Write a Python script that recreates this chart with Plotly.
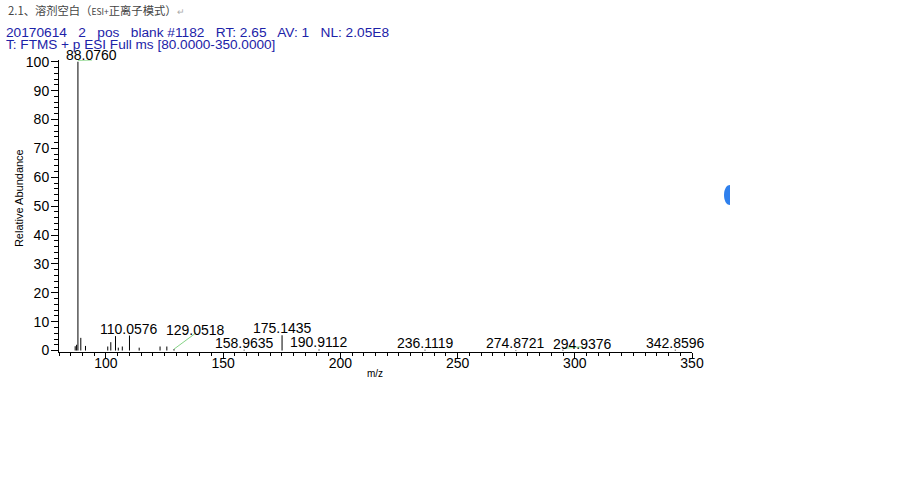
import plotly.graph_objects as go

# ---- data ----
peak_mz = [86.9, 87.5, 88.0760, 89.3, 91.3, 100.8, 102.1, 104.1, 105.3, 107.0,
           110.0576, 114.2, 123.1, 126.0, 129.0518, 158.9635, 175.1435,
           190.9112, 236.1119, 274.8721, 294.9376, 342.8596]
peak_int = [1.5, 2.0, 100.0, 4.4, 1.6, 1.4, 2.9, 5.0, 1.0, 1.4,
            5.2, 1.0, 1.4, 1.4, 0.5, 0.3, 5.3,
            0.4, 0.3, 0.2, 0.3, 0.3]

label_mz = [88.0760, 110.0576, 129.0518, 158.9635, 175.1435, 190.9112,
            236.1119, 274.8721, 294.9376, 342.8596]
label_int = [100.0, 5.2, 0.5, 0.3, 5.3, 0.4, 0.3, 0.2, 0.3, 0.3]
label_text = ["88.0760", "110.0576", "129.0518", "158.9635", "175.1435",
              "190.9112", "236.1119", "274.8721", "294.9376", "342.8596"]
# pixel offsets of labels that are displaced from their peaks
label_dx = [14, 0, 21, 0, 0, 0, 0, 0, 20, 0]
label_dy = [-3, -3, 9, -3, -3, -3, -3, -3, -4, -3]

x_ticks = [100, 150, 200, 250, 300, 350]
y_ticks = [0, 10, 20, 30, 40, 50, 60, 70, 80, 90, 100]

FONT = "Arial, Liberation Sans, sans-serif"
BLUE = "#1c22a8"
GREEN = "#86d486"
SP = "&nbsp;&nbsp; "

# build stick spectrum
xs, ys = [], []
for m, v in zip(peak_mz, peak_int):
    xs += [m, m, None]
    ys += [0, v, None]

fig = go.Figure()
fig.add_trace(go.Scatter(x=xs, y=ys, mode="lines",
                         line=dict(color="black", width=1),
                         hoverinfo="skip", showlegend=False))

for m, v, t, dx, dy in zip(label_mz, label_int, label_text, label_dx, label_dy):
    fig.add_annotation(x=m, y=v, text=t, showarrow=False,
                       xanchor="center", yanchor="bottom",
                       xshift=dx, yshift=dy,
                       font=dict(family=FONT, size=14, color="black"))

# green leader lines (relative to peaks)
leaders = [(88.0760, 100.5, 94.1, 100.6),
           (129.0518, 0.5, 138.4, 6.1),
           (294.9376, 0.7, 303.5, 1.4)]
for x0, y0, x1, y1 in leaders:
    fig.add_shape(type="line", xref="x", yref="y", x0=x0, y0=y0, x1=x1, y1=y1,
                  line=dict(color=GREEN, width=1))

# header texts
fig.add_annotation(xref="paper", yref="paper", x=(6 - 59) / 633, y=1.171,
                   xanchor="left", yanchor="middle", showarrow=False,
                   text="2.1、溶剂空白（<span style='font-size:8.5px'>ESI+</span>正离子模式）<span style='color:#aaaaaa;font-size:9px'>↵</span>",
                   font=dict(family="Noto Sans CJK SC", size=11.3, color="#444444"))
fig.add_annotation(xref="paper", yref="paper", x=(4 - 59) / 633, y=(352 - 33) / 292,
                   xanchor="left", yanchor="middle", showarrow=False,
                   text="20170614" + SP + "2" + SP + "pos" + SP + "blank #1182" + SP
                        + "RT: 2.65" + SP + "AV: 1" + SP + "NL: 2.05E8",
                   font=dict(family=FONT, size=13.7, color=BLUE))
fig.add_annotation(xref="paper", yref="paper", x=(4 - 59) / 633, y=(352 - 45) / 292,
                   xanchor="left", yanchor="middle", showarrow=False,
                   text="T: FTMS + p ESI Full ms [80.0000-350.0000]",
                   font=dict(family=FONT, size=13.6, color=BLUE))

# axis titles
fig.add_annotation(xref="paper", yref="paper", x=(19 - 59) / 633, y=0.527,
                   xanchor="center", yanchor="middle", showarrow=False,
                   text="Relative Abundance", textangle=-90,
                   font=dict(family=FONT, size=11, color="black"))
fig.add_annotation(xref="paper", yref="paper", x=0.499, y=-0.075,
                   xanchor="center", yanchor="middle", showarrow=False,
                   text="m/z", font=dict(family=FONT, size=10, color="black"))

# blue half circle artifact at right
x1p = (730 - 59) / 633
xcp = (722 - 59) / 633
ytp = (352 - 185) / 292
ybp = (352 - 205) / 292
fig.add_shape(type="path", xref="paper", yref="paper",
              path=f"M {x1p},{ytp} C {xcp},{ytp} {xcp},{ybp} {x1p},{ybp} Z",
              fillcolor="#2f80ed", line=dict(width=0))

fig.update_xaxes(range=[80, 350], tickvals=x_ticks,
                 ticktext=[str(v) for v in x_ticks],
                 showgrid=False, zeroline=False,
                 showline=True, linecolor="black", linewidth=1,
                 ticks="outside", ticklen=6, tickcolor="black",
                 ticklabelstandoff=-8,
                 tickfont=dict(family=FONT, size=14, color="black"),
                 minor=dict(dtick=5, ticks="outside", ticklen=3, tickcolor="black"))
fig.update_yaxes(range=[-0.5, 100.6], tickvals=y_ticks,
                 ticktext=[str(v) for v in y_ticks],
                 showgrid=False, zeroline=False,
                 showline=True, linecolor="black", linewidth=1,
                 ticks="outside", ticklen=7, tickcolor="black",
                 ticklabelstandoff=-1,
                 tickfont=dict(family=FONT, size=14, color="black"),
                 minor=dict(dtick=2, ticks="outside", ticklen=4, tickcolor="black"))

fig.update_layout(width=900, height=497,
                  margin=dict(l=59, r=208, t=60, b=145),
                  plot_bgcolor="white", paper_bgcolor="white",
                  showlegend=False)

# remove the default 8px page margin so the figure sits at the window origin
fig.write_html("out.html", config={"displayModeBar": False},
               post_script="document.body.style.margin='0px';document.body.style.padding='0px';")
